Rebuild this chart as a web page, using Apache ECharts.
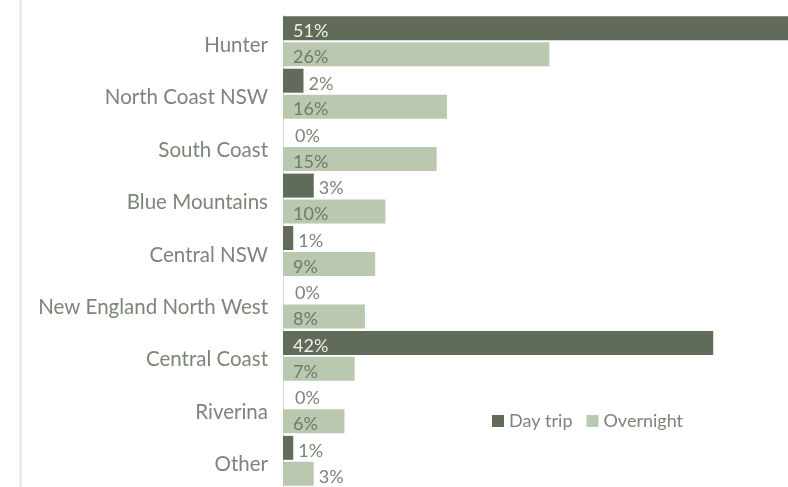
<!DOCTYPE html>
<html><head><meta charset="utf-8">
<script src="https://cdn.jsdelivr.net/npm/echarts@6/dist/echarts.min.js"></script>
<style>html,body{margin:0;padding:0;background:#fff}#c{width:788px;height:487px}</style>
</head><body><div id="c"></div>
<script>
const categories = ["Hunter","North Coast NSW","South Coast","Blue Mountains","Central NSW","New England North West","Central Coast","Riverina","Other"];
const dayTrip = [51,2,0,3,1,0,42,0,1];
const overnight = [26,16,15,10,9,8,7,6,3];
const seriesNames = ["Day trip","Overnight"];

const FONT = "Lato";
const DARK = "#606b5a", LIGHT = "#bac8b0", TXT = "#7b8578";

function mk(vals, insideColor){
  return vals.map(v => {
    let label;
    if (v >= 5) label = {position:'insideLeft', distance:10, color:insideColor};
    else if (v === 0) label = {position:'right', distance:12, color:TXT};
    else label = {position:'right', distance:5, color:TXT};
    return {value:v, label};
  });
}

const chart = echarts.init(document.getElementById('c'), null, {renderer:'canvas'});
chart.setOption({
  animation:false,
  textStyle:{fontFamily:FONT},
  grid:{left:283, right:0, top:15, bottom:-2, containLabel:false},
  legend:{
    left:487, top:407, itemWidth:12, itemHeight:12, itemGap:14,
    icon:'rect',
    textStyle:{fontFamily:FONT, fontSize:18, color:TXT, padding:[2,0,0,0]},
    data:seriesNames
  },
  xAxis:{type:'value', min:0, max:49.3, show:false},
  yAxis:{
    type:'category', data:categories, inverse:true,
    axisLine:{show:true, lineStyle:{color:'#d9d9d9', width:1}},
    axisTick:{show:false},
    axisLabel:{fontFamily:FONT, fontSize:20.5, color:TXT, margin:15, verticalAlign:'top', lineHeight:8}
  },
  graphic:[{type:'line', shape:{x1:20.5,y1:0,x2:20.5,y2:487}, style:{stroke:'#e2eadc', lineWidth:2}}],
  series:[
    {name:seriesNames[0], type:'bar', data:mk(dayTrip,'#eef0ea'), barWidth:24, barGap:'8%',
     itemStyle:{color:DARK}, clip:true,
     label:{show:true, formatter:'{c}%', fontFamily:FONT, fontSize:18, offset:[0,3]}},
    {name:seriesNames[1], type:'bar', data:mk(overnight,'#6f7a6c'), barWidth:24, barGap:'8%',
     itemStyle:{color:LIGHT}, clip:true,
     label:{show:true, formatter:'{c}%', fontFamily:FONT, fontSize:18, offset:[0,3]}}
  ]
});
</script></body></html>
